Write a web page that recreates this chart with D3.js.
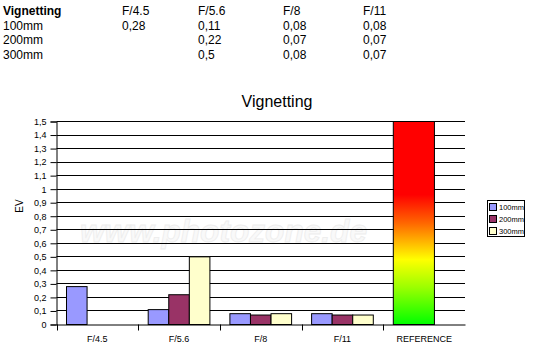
<!DOCTYPE html>
<html><head><meta charset="utf-8">
<script src="https://cdn.jsdelivr.net/npm/d3@7"></script>
<style>body{margin:0;background:#fff}svg{display:block}text{font-family:Arial,"Liberation Sans",sans-serif}</style>
</head><body>
<script>
const tableHead = ["Vignetting","F/4.5","F/5.6","F/8","F/11"];
const tableRows = ["100mm","200mm","300mm"];
const categories = ["F/4.5","F/5.6","F/8","F/11","REFERENCE"];
const series = ["100mm","200mm","300mm"];
const v100 = [0.28, 0.11, 0.08, 0.08];
const v200 = [null, 0.22, 0.07, 0.07];
const v300 = [null, 0.5, 0.08, 0.07];
const referenceValue = 1.5;
const yTicks = [0,0.1,0.2,0.3,0.4,0.5,0.6,0.7,0.8,0.9,1,1.1,1.2,1.3,1.4,1.5];
const colors = ["#9999ff","#993366","#ffffcc"];
const fmt = v => String(v).replace(".", ",");

const W=556,H=359;
const svg=d3.select("body").append("svg").attr("width",W).attr("height",H);

// table
const colX=[3,122,198,283,363];
const rowY=[15,29.5,44,58.5];
tableHead.forEach((t,i)=>svg.append("text").attr("x",colX[i]).attr("y",rowY[0]).attr("font-size",12)
  .attr("font-weight",i===0?"bold":"normal").attr("fill","#000").text(t));
const vals=[v100,v200,v300];
tableRows.forEach((r,ri)=>{
  svg.append("text").attr("x",colX[0]).attr("y",rowY[ri+1]).attr("font-size",12).text(r);
  vals[ri].forEach((v,ci)=>{ if(v!=null) svg.append("text").attr("x",colX[ci+1]).attr("y",rowY[ri+1]).attr("font-size",12).text(fmt(v)); });
});

// chart
const x=d3.scaleBand().domain(categories).range([56.5,465]).padding(0);
const y=d3.scaleLinear().domain([0,1.5]).range([324.5,121.5]);
const xi=d3.scaleBand().domain(series).range([10,x.bandwidth()-10]).padding(0);

svg.append("text").attr("x",277).attr("y",107).attr("text-anchor","middle").attr("font-size",16).text("Vignetting");

// watermark
svg.append("text").attr("x",80).attr("y",242).attr("font-size",31).attr("font-weight","bold").attr("font-style","italic")
  .attr("textLength",287).attr("lengthAdjust","spacingAndGlyphs")
  .attr("fill","#f9f9f9").attr("stroke","#ededed").attr("stroke-width",0.8).text("www.photozone.de");

// gridlines
svg.append("g").selectAll("line").data(yTicks.filter(d=>d>0)).join("line")
  .attr("x1",56.5).attr("x2",465).attr("y1",d=>Math.round(y(d)-0.5)+0.5).attr("y2",d=>Math.round(y(d)-0.5)+0.5)
  .attr("stroke","#000").attr("stroke-width",1);

// y axis
const ya=svg.append("g").attr("transform","translate(56.5,0)")
  .call(d3.axisLeft(y).tickValues(yTicks).tickSize(6).tickPadding(4).tickFormat(fmt));
ya.select(".domain").attr("stroke","#000");
ya.selectAll("text").attr("font-size",9).attr("font-family","Arial, 'Liberation Sans', sans-serif").attr("fill","#000");
ya.selectAll("line").attr("stroke","#000");

svg.append("text").attr("transform","translate(23,206) rotate(-90)").attr("text-anchor","middle").attr("font-size",10).text("EV");

// x axis
const xa=svg.append("g").attr("transform","translate(0,324.5)")
  .call(d3.axisBottom(x).tickSize(0).tickPadding(11));
xa.select(".domain").attr("stroke","#000");
xa.selectAll("text").attr("font-size",9).attr("font-family","Arial, 'Liberation Sans', sans-serif").attr("fill","#000");
const bounds=categories.map(c=>x(c)).concat([x.range()[1]]);
svg.append("g").selectAll("line").data(bounds.slice(0,5)).join("line")
  .attr("x1",d=>Math.round(d)+0.5).attr("x2",d=>Math.round(d)+0.5).attr("y1",324.5).attr("y2",330.5).attr("stroke","#000");

// bars
const barData=[];
[v100,v200,v300].forEach((arr,si)=>arr.forEach((v,ci)=>{ if(v!=null) barData.push({c:categories[ci],s:series[si],v,si}); }));
svg.append("g").selectAll("rect").data(barData).join("rect")
  .attr("x",d=>x(d.c)+xi(d.s)).attr("width",xi.bandwidth())
  .attr("y",d=>y(d.v)).attr("height",d=>y(0)-y(d.v))
  .attr("fill",d=>colors[d.si]).attr("stroke","#000").attr("stroke-width",1);

// reference gradient bar
const defs=svg.append("defs");
const g=defs.append("linearGradient").attr("id","refg").attr("x1",0).attr("y1",0).attr("x2",0).attr("y2",1);
[[0,"#ff0000"],[0.36,"#ff0000"],[0.5,"#ff6600"],[0.62,"#ffcc00"],[0.68,"#ffff00"],[0.82,"#99ff00"],[1,"#00ff00"]]
  .forEach(([o,c])=>g.append("stop").attr("offset",o).attr("stop-color",c));
svg.append("rect").attr("x",x("REFERENCE")+xi(series[0])).attr("width",xi.bandwidth()*2)
  .attr("y",y(referenceValue)).attr("height",y(0)-y(referenceValue))
  .attr("fill","url(#refg)").attr("stroke","#000");

// legend
const lg=svg.append("g");
lg.append("rect").attr("x",487.5).attr("y",200.5).attr("width",37).attr("height",36).attr("fill","#fff").attr("stroke","#000");
series.forEach((s,i)=>{
  lg.append("rect").attr("x",489.5).attr("y",203.5+i*12).attr("width",7).attr("height",7).attr("fill",colors[i]).attr("stroke","#000");
  lg.append("text").attr("x",499).attr("y",210+i*12).attr("font-size",8).attr("textLength",25).attr("lengthAdjust","spacingAndGlyphs").text(s);
});
</script>
</body></html>
